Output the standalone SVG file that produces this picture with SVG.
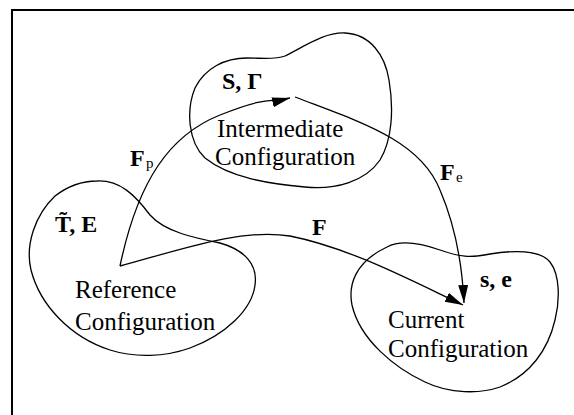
<svg xmlns="http://www.w3.org/2000/svg" width="574" height="415" viewBox="0 0 574 415">
<style>
.blob{fill:none;stroke:#000;stroke-width:1.3}
.conn{fill:none;stroke:#000;stroke-width:1.3}
text{font-family:'Liberation Serif','Times New Roman',Tinos,'DejaVu Serif',serif;fill:#000}
.lbl{font-size:25px}
.sym{font-size:24px;font-weight:bold}
.sub{font-size:15px}
</style>
<defs>
<marker id="ah" markerUnits="userSpaceOnUse" markerWidth="20" markerHeight="12" refX="18" refY="5" orient="auto">
<path d="M0,0 L18,5 L0,10 Z" fill="#000"/>
</marker>
</defs>
<rect width="574" height="415" fill="#fff"/>
<path d="M12,415 V10 H574" fill="none" stroke="#000" stroke-width="2"/>
<g id="reference">
<path class="blob" d="M97,181 C120,180 135,195 150,215 C165,232 195,238 220,243 C245,250 258,265 255,285 C252,310 225,335 190,348 C165,357 135,358 110,350 C70,337 40,305 31,270 C25,245 35,215 55,196 C68,186 82,181 97,181 Z"/>
<text class="sym" x="55" y="232" font-family="Liberation Serif, serif">T̃, E</text>
<text class="lbl" x="75" y="298" font-family="Liberation Serif, serif">Reference</text>
<text class="lbl" x="75" y="330" font-family="Liberation Serif, serif">Configuration</text>
</g>
<g id="intermediate">
<path class="blob" d="M247,58 C262,58 275,60 285,56 C305,46 325,32 345,33 C370,34 385,55 389,80 C394,110 392,140 380,160 C365,182 335,190 305,187 C270,184 230,178 205,158 C188,142 186,110 195,88 C205,68 225,58 247,58 Z"/>
<text class="sym" x="222" y="89" font-family="Liberation Serif, serif">S, Γ</text>
<text class="lbl" x="217" y="137" font-family="Liberation Serif, serif">Intermediate</text>
<text class="lbl" x="215" y="165" font-family="Liberation Serif, serif">Configuration</text>
</g>
<g id="current">
<path class="blob" d="M387,247 C400,240 420,243 440,250 C460,257 470,258 490,254 C515,250 540,250 550,262 C560,275 560,300 555,320 C548,350 530,375 500,387 C480,394 450,394 425,382 C395,368 360,340 352,305 C348,285 355,262 387,247 Z"/>
<text class="sym" x="480" y="287" font-family="Liberation Serif, serif">s, e</text>
<text class="lbl" x="388" y="328" font-family="Liberation Serif, serif">Current</text>
<text class="lbl" x="388" y="357" font-family="Liberation Serif, serif">Configuration</text>
</g>
<g id="connectors">
<path class="conn" marker-end="url(#ah)" d="M120,266 C138,180 170,135 220,115 S270,103 290,98"/>
<path class="conn" marker-end="url(#ah)" d="M295,97 C360,122 420,140 440,190 C455,225 462,260 464,303"/>
<path class="conn" marker-end="url(#ah)" d="M120,266 C180,250 240,228 290,236 C350,248 410,280 463,305"/>
<text class="sym" x="130" y="166" font-family="Liberation Serif, serif">F</text><text class="sub" x="146" y="168" font-family="Liberation Serif, serif">p</text>
<text class="sym" x="440" y="180" font-family="Liberation Serif, serif">F</text><text class="sub" x="456" y="182" font-family="Liberation Serif, serif">e</text>
<text class="sym" x="312" y="235" font-family="Liberation Serif, serif">F</text>
</g>
</svg>
